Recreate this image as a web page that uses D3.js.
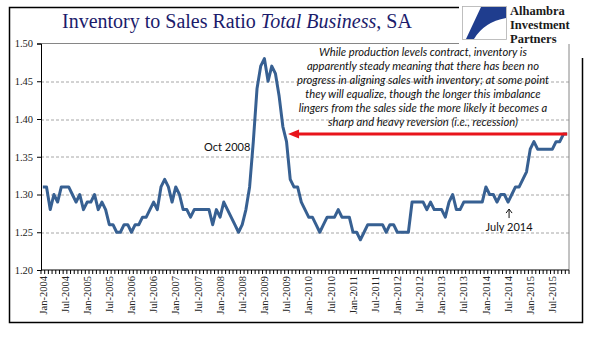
<!DOCTYPE html>
<html>
<head>
<meta charset="utf-8">
<script src="https://cdn.jsdelivr.net/npm/d3@7"></script>
<style>
  body { margin: 0; background: #fff; }
  svg { display: block; }
</style>
</head>
<body>
<div id="chart"></div>
<script>
// Total business inventory / sales ratio, monthly, SA. Jan 2004 .. Nov 2015
const firstMonth = new Date(2004, 0, 1);
const lastMonth = new Date(2015, 10, 1);

const ratios = [
  1.31, 1.31, 1.28, 1.30, 1.29, 1.31, 1.31, 1.31, 1.30, 1.29, 1.30, 1.28, // 2004
  1.29, 1.29, 1.30, 1.28, 1.29, 1.28, 1.26, 1.26, 1.25, 1.25, 1.26, 1.26, // 2005
  1.25, 1.26, 1.26, 1.27, 1.27, 1.28, 1.29, 1.28, 1.31, 1.32, 1.31, 1.29, // 2006
  1.31, 1.30, 1.28, 1.28, 1.27, 1.28, 1.28, 1.28, 1.28, 1.28, 1.26, 1.28, // 2007
  1.27, 1.29, 1.28, 1.27, 1.26, 1.25, 1.26, 1.28, 1.31, 1.37, 1.44, 1.47, // 2008
  1.48, 1.45, 1.47, 1.46, 1.43, 1.39, 1.37, 1.32, 1.31, 1.31, 1.29, 1.28, // 2009
  1.27, 1.27, 1.26, 1.25, 1.26, 1.27, 1.27, 1.27, 1.28, 1.27, 1.27, 1.27, // 2010
  1.25, 1.25, 1.24, 1.25, 1.26, 1.26, 1.26, 1.26, 1.26, 1.25, 1.26, 1.26, // 2011
  1.25, 1.25, 1.25, 1.25, 1.29, 1.29, 1.29, 1.29, 1.28, 1.29, 1.28, 1.28, // 2012
  1.28, 1.27, 1.29, 1.30, 1.28, 1.28, 1.29, 1.29, 1.29, 1.29, 1.29, 1.29, // 2013
  1.31, 1.30, 1.30, 1.29, 1.30, 1.30, 1.29, 1.30, 1.31, 1.31, 1.32, 1.33, // 2014
  1.36, 1.37, 1.36, 1.36, 1.36, 1.36, 1.36, 1.37, 1.37, 1.38, 1.38        // 2015
];

const yTicks = [1.20, 1.25, 1.30, 1.35, 1.40, 1.45, 1.50];
const labelMonths = [0, 6];   // Jan and Jul get a label

const noteLines = [
  'While production levels contract, inventory is',
  'apparently steady meaning that there has been no',
  'progress in aligning sales with inventory; at some point',
  'they will equalize, though the longer this imbalance',
  'lingers from the sales side the more likely it becomes a',
  'sharp and heavy reversion (i.e., recession)'
];

const peakNote = {month: new Date(2008, 9, 1), text: 'Oct 2008'};
const lowNote = {month: new Date(2014, 6, 1), text: 'July 2014'};
const logoLines = ['Alhambra', 'Investment', 'Partners'];

class RatioChart {
  constructor(_config, _months, _values) {
    this.config = {
      parentElement: _config.parentElement,
      containerWidth: _config.containerWidth || 596,
      containerHeight: _config.containerHeight || 341,
      margin: _config.margin || {top: 43.5, right: 27, bottom: 71, left: 41}
    };
    this.months = _months;
    this.values = _values;
    this.initVis();
  }

  initVis() {
    let vis = this;
    const m = vis.config.margin;
    vis.width = vis.config.containerWidth - m.left - m.right;
    vis.height = vis.config.containerHeight - m.top - m.bottom;

    vis.svg = d3.select(vis.config.parentElement).append('svg')
      .attr('width', vis.config.containerWidth)
      .attr('height', vis.config.containerHeight);

    // outer frame
    vis.svg.append('rect')
      .attr('x', 9.5).attr('y', 7.5)
      .attr('width', 573).attr('height', 315)
      .attr('fill', 'none').attr('stroke', '#000').attr('stroke-width', 1.5);

    vis.chart = vis.svg.append('g')
      .attr('transform', `translate(${m.left},${m.top})`);

    vis.x = d3.scaleBand().domain(vis.months).range([0, vis.width]);
    vis.y = d3.scaleLinear().domain([1.2, 1.5]).range([vis.height, 0]);
    vis.cx = d => vis.x(d) + vis.x.bandwidth() / 2;

    vis.renderVis();
  }

  renderVis() {
    let vis = this;
    const data = vis.months.map((d, i) => ({date: d, value: vis.values[i]}));

    // gridlines
    vis.chart.selectAll('.grid')
      .data(yTicks.slice(1, -1))
      .join('line')
      .attr('class', 'grid')
      .attr('x1', 0).attr('x2', vis.width)
      .attr('y1', d => Math.round(vis.y(d)) + 0.5).attr('y2', d => Math.round(vis.y(d)) + 0.5)
      .attr('stroke', '#a6a6a6').attr('stroke-dasharray', '3,2');

    // plot area border (top + right)
    vis.chart.append('path')
      .attr('d', `M0,${vis.y(1.5)}H${vis.width}V${vis.height}`)
      .attr('fill', 'none').attr('stroke', '#868686');

    // y axis
    const yAxis = d3.axisLeft(vis.y).tickValues(yTicks).tickSize(4).tickFormat(d3.format('.2f'));
    const yg = vis.chart.append('g').call(yAxis);
    yg.select('.domain').attr('stroke', '#000');
    yg.selectAll('.tick line').attr('stroke', '#000');
    yg.selectAll('text')
      .attr('x', -8)
      .attr('font-family', 'Liberation Serif, serif').attr('font-size', 10.5).attr('fill', '#222');

    // x axis: monthly ticks on category boundaries
    const xg = vis.chart.append('g').attr('transform', `translate(0,${vis.height})`);
    xg.append('line').attr('x1', 0).attr('x2', vis.width).attr('stroke', '#000');
    xg.selectAll('.mtick')
      .data(vis.months.map(d => vis.x(d)).concat([vis.width]))
      .join('line')
      .attr('class', 'mtick')
      .attr('x1', d => d).attr('x2', d => d)
      .attr('y1', 0).attr('y2', 4)
      .attr('stroke', '#000');

    const fmt = d3.timeFormat('%b-%Y');
    xg.selectAll('.mlabel')
      .data(vis.months.filter(d => labelMonths.includes(d.getMonth())))
      .join('text')
      .attr('class', 'mlabel')
      .attr('transform', d => `translate(${vis.cx(d)},6) rotate(-90)`)
      .attr('text-anchor', 'end')
      .attr('dy', '0.35em')
      .attr('font-family', 'Liberation Serif, serif').attr('font-size', 10.5).attr('fill', '#222')
      .text(d => fmt(d));

    // series line
    const line = d3.line().x(d => vis.cx(d.date)).y(d => vis.y(d.value));
    vis.chart.append('path')
      .datum(data)
      .attr('d', line)
      .attr('fill', 'none')
      .attr('stroke', '#376092')
      .attr('stroke-width', 3)
      .attr('stroke-linejoin', 'round');

    // red arrow from the latest reading back to the 2009 descent
    const last = data[data.length - 1];
    const ay = vis.y(last.value);
    const tipX = vis.cx(new Date(2009, 6, 1)) + 1.5;
    vis.chart.append('line')
      .attr('x1', vis.cx(last.date)).attr('x2', tipX + 9)
      .attr('y1', ay).attr('y2', ay)
      .attr('stroke', '#e8141b').attr('stroke-width', 3);
    vis.chart.append('path')
      .attr('d', `M${tipX},${ay}L${tipX + 11},${ay - 4.5}L${tipX + 11},${ay + 4.5}Z`)
      .attr('fill', '#e8141b');

    // Oct 2008 callout
    const pv = data.find(d => +d.date === +peakNote.month).value;
    vis.chart.append('text')
      .attr('x', vis.cx(peakNote.month) - 3)
      .attr('y', vis.y(pv) + 9)
      .attr('text-anchor', 'end')
      .attr('font-family', 'Lato, sans-serif').attr('font-size', 11).attr('fill', '#111')
      .text(peakNote.text);

    // July 2014 callout with a small upward arrow
    const lv = data.find(d => +d.date === +lowNote.month).value;
    const lx = vis.cx(lowNote.month) + 1;
    const ly = vis.y(lv) + 7;
    vis.chart.append('path')
      .attr('d', `M${lx},${ly + 9}V${ly}M${lx - 3},${ly + 4}L${lx},${ly}L${lx + 3},${ly + 4}`)
      .attr('fill', 'none').attr('stroke', '#111').attr('stroke-width', 1);
    vis.chart.append('text')
      .attr('x', lx).attr('y', ly + 22)
      .attr('text-anchor', 'middle')
      .attr('font-family', 'Lato, sans-serif').attr('font-size', 11).attr('fill', '#111')
      .text(lowNote.text);

    // commentary block
    vis.chart.append('text')
      .attr('font-family', 'Lato, sans-serif').attr('font-style', 'italic')
      .attr('font-size', 11.2).attr('fill', '#111')
      .attr('text-anchor', 'middle')
      .selectAll('tspan')
      .data(noteLines)
      .join('tspan')
      .attr('x', 382)
      .attr('y', (d, i) => 12.5 + i * 14)
      .text(d => d);

    vis.drawTitle();
    vis.drawLogo();
  }

  drawTitle() {
    let vis = this;
    const t = vis.svg.append('text')
      .attr('x', 62).attr('y', 28)
      .attr('font-family', 'Liberation Serif, serif').attr('font-size', 20)
      .attr('fill', '#1b1b6b');
    t.append('tspan').text('Inventory to Sales Ratio ');
    t.append('tspan').attr('font-style', 'italic').text('Total Business');
    t.append('tspan').text(', SA');
  }

  drawLogo() {
    let vis = this;
    const g = vis.svg.append('g');
    g.append('rect').attr('x', 459).attr('y', 0).attr('width', 137).attr('height', 44).attr('fill', '#fff');
    g.append('rect').attr('x', 572).attr('y', 0).attr('width', 24).attr('height', 58).attr('fill', '#fff');
    g.append('rect')
      .attr('x', 462.5).attr('y', 6.5).attr('width', 44).attr('height', 33)
      .attr('fill', '#fff').attr('stroke', '#b0b0b0').attr('stroke-width', 0.8);
    g.append('path')
      .attr('d', 'M466,39 L481,7 L506,7 L506,18 Q484,22 474,39 Z')
      .attr('fill', '#1f3d8e');
    g.selectAll('.logo')
      .data(logoLines)
      .join('text')
      .attr('class', 'logo')
      .attr('x', 510)
      .attr('y', (d, i) => 14.5 + i * 14)
      .attr('font-family', 'Liberation Serif, serif').attr('font-size', 12.5)
      .attr('font-weight', 600)
      .attr('fill', '#1a1a1a')
      .text(d => d);
  }
}

const months = d3.timeMonths(firstMonth, d3.timeMonth.offset(lastMonth, 1));
new RatioChart({parentElement: '#chart'}, months, ratios);
</script>
</body>
</html>
